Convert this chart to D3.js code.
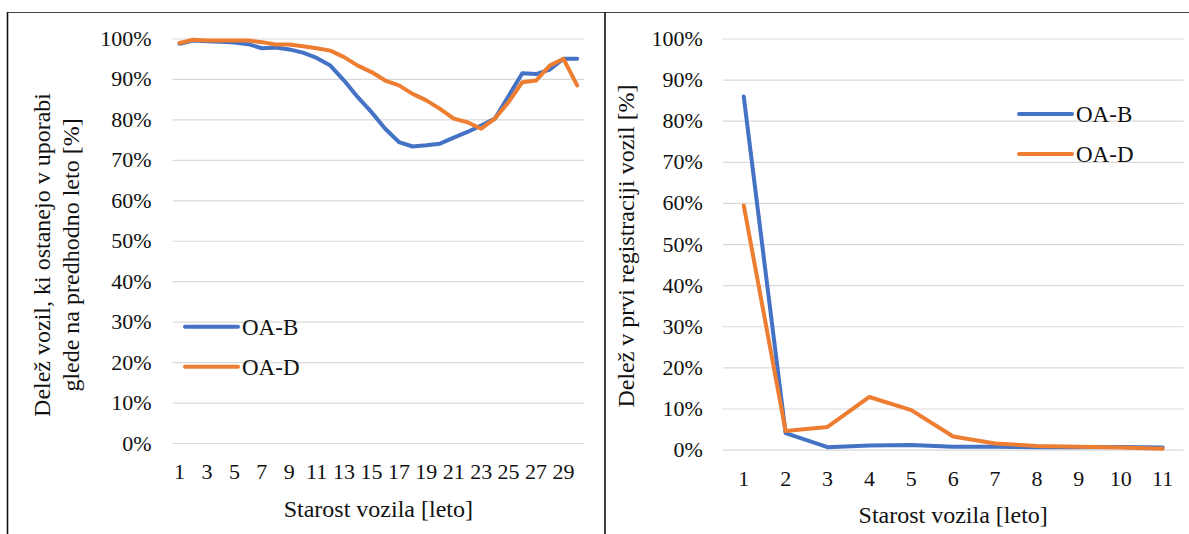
<!DOCTYPE html>
<html>
<head>
<meta charset="utf-8">
<script src="https://cdn.jsdelivr.net/npm/d3@7"></script>
<style>
  html, body { margin: 0; padding: 0; background: #fff; }
  svg { display: block; }
  svg text { font-family: "Liberation Serif", "Tinos", "Times New Roman", "DejaVu Serif Condensed", "DejaVu Serif", serif !important; }
</style>
</head>
<body>
<svg id="chart" width="1189" height="534"></svg>
<script>
// ---------- DATA ----------
const ages1 = [1,2,3,4,5,6,7,8,9,10,11,12,13,14,15,16,17,18,19,20,21,22,23,24,25,26,27,28,29,30];
const xTicks1 = [1,3,5,7,9,11,13,15,17,19,21,23,25,27,29];
const survB = [98.7,99.5,99.3,99.2,99.0,98.6,97.6,97.8,97.3,96.5,95.2,93.3,89.6,85.5,81.8,77.7,74.4,73.3,73.6,74.0,75.5,76.9,78.5,80.2,85.8,91.4,91.2,92.3,95.0,95.0];
const survD = [98.9,99.7,99.5,99.5,99.5,99.5,99.1,98.5,98.5,98.1,97.6,97.0,95.4,93.3,91.7,89.6,88.4,86.3,84.7,82.6,80.2,79.3,77.7,80.2,84.3,89.2,89.6,93.3,95.0,88.4];

const ages2 = [1,2,3,4,5,6,7,8,9,10,11];
const firstB = [85.9,4.0,0.6,1.0,1.1,0.7,0.7,0.6,0.6,0.65,0.5];
const firstD = [59.4,4.5,5.5,12.8,9.6,3.2,1.5,0.9,0.7,0.5,0.2];

const yTicks = [0,10,20,30,40,50,60,70,80,90,100];
const seriesNames = ["OA-B","OA-D"];
const colors = ["#4472C4","#ED7D31"];

const yTitle1 = ["Delež vozil, ki ostanejo v uporabi", "glede na predhodno leto [%]"];
const yTitle2 = "Delež v prvi registraciji vozil [%]";
const xTitle = "Starost vozila [leto]";

// ---------- DRAW ----------
const svg = d3.select("#chart");
svg.append("rect").attr("width",1189).attr("height",534).attr("fill","#fff");

// table borders
svg.append("line").attr("x1",7).attr("x2",1189).attr("y1",12.5).attr("y2",12.5).attr("stroke","#444").attr("stroke-width",1.2);
svg.append("line").attr("x1",7.5).attr("x2",7.5).attr("y1",12).attr("y2",534).attr("stroke","#111").attr("stroke-width",1.6);
svg.append("line").attr("x1",605).attr("x2",605).attr("y1",12).attr("y2",534).attr("stroke","#111").attr("stroke-width",1.6);

function panel(cfg) {
  const g = svg.append("g");
  const x = d3.scaleBand().domain(cfg.cats).range([cfg.x0, cfg.x1]);
  const y = d3.scaleLinear().domain([0,100]).range([cfg.y0, cfg.y1]);
  const cx = d => x(d) + x.bandwidth()/2;

  // grid + y labels
  const ya = g.append("g").attr("transform", `translate(${cfg.x0},0)`)
    .call(d3.axisLeft(y).tickValues(yTicks).tickSize(-(cfg.x1-cfg.x0)).tickPadding(cfg.yPad).tickFormat(d => d + "%"));
  ya.select(".domain").remove();
  ya.selectAll(".tick line").attr("stroke","#d9d9d9").attr("stroke-width",1.2);
  ya.selectAll(".tick text").attr("font-size",22).attr("fill","#111");

  // x labels
  const xa = g.append("g").attr("transform", `translate(0,${cfg.y0})`)
    .call(d3.axisBottom(x).tickValues(cfg.xTicks).tickSize(0));
  xa.select(".domain").remove();
  xa.selectAll(".tick text").attr("font-size",22).attr("fill","#111")
    .attr("y", cfg.xLabOff).attr("dy","0.35em");

  // lines
  const line = d3.line().x((d,i) => cx(cfg.cats[i])).y(d => y(d));
  cfg.series.forEach((s,k) => {
    g.append("path").datum(s).attr("d", line).attr("fill","none")
      .attr("stroke", colors[k]).attr("stroke-width",4).attr("stroke-linejoin","round").attr("stroke-linecap","round");
  });

  // legend
  seriesNames.forEach((n,k) => {
    const ly = cfg.legY + k*cfg.legGap;
    g.append("line").attr("x1",cfg.legX).attr("x2",cfg.legX+53).attr("y1",ly).attr("y2",ly)
      .attr("stroke",colors[k]).attr("stroke-width",4).attr("stroke-linecap","round");
    g.append("text").attr("x",cfg.legX+57).attr("y",ly).attr("dy","0.35em")
      .attr("font-size",23).attr("fill","#111").text(n);
  });

  // x title
  g.append("text").attr("x",(cfg.x0+cfg.x1)/2).attr("y",cfg.xTitleY).attr("dy","0.35em")
    .attr("text-anchor","middle").attr("font-size",24).attr("fill","#111").text(xTitle);

  // y title
  cfg.yTitle.forEach((t,i) => {
    g.append("text").attr("transform",`translate(${cfg.yTitleX[i]},${cfg.yTitleY}) rotate(-90)`)
      .attr("dy","0.35em").attr("text-anchor","middle").attr("font-size",24).attr("fill","#111").text(t);
  });
}

panel({
  cats: ages1, xTicks: xTicks1, series: [survB, survD],
  x0: 172.7, x1: 584, y0: 443, y1: 38.5, yPad: 21, xLabOff: 28,
  legX: 185, legY: 326.7, legGap: 40,
  xTitleY: 509, yTitle: yTitle1, yTitleX: [42, 71], yTitleY: 255
});

panel({
  cats: ages2, xTicks: ages2, series: [firstB, firstD],
  x0: 722.8, x1: 1183.6, y0: 449.6, y1: 38.5, yPad: 20, xLabOff: 29,
  legX: 1019, legY: 114, legGap: 40,
  xTitleY: 515, yTitle: [yTitle2], yTitleX: [626], yTitleY: 246
});
</script>
</body>
</html>
